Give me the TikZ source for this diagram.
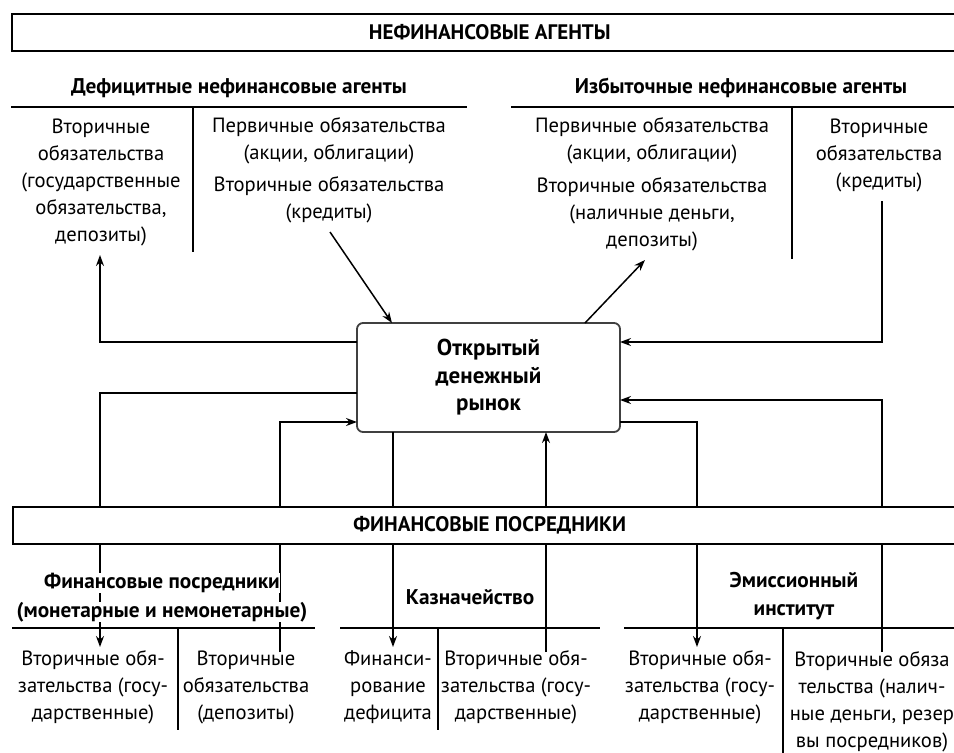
\documentclass[tikz,border=0pt]{standalone}
\usepackage{fontspec}
\setmainfont{PT Sans}
\usetikzlibrary{arrows.meta}
\begin{document}
\begin{tikzpicture}[x=1pt,y=-1pt,line width=1.5pt,
  txt/.style={align=center,font=\fontsize{20.6}{27}\selectfont,inner sep=0pt},
  hd/.style={align=center,font=\fontsize{21.3}{28}\selectfont\bfseries,inner sep=0pt},
  hdw/.style={hd,fill=white},
  banner/.style={draw,fill=white,line width=1.5pt,minimum height=37pt,inner sep=0pt,
    font=\fontsize{21}{24}\selectfont\bfseries},
  market/.style={draw=black!75,line width=1.8pt,fill=white,rounded corners=6pt,
    minimum width=263pt,minimum height=109pt,inner sep=0pt,align=center,
    font=\fontsize{23}{27.5}\selectfont\bfseries},
  arr/.style={-{Stealth[length=11pt,width=8pt]}},
  rule/.style={line width=1.5pt}]
\useasboundingbox (0,0) rectangle (954,753);
\clip (0,0) rectangle (954,753);

% ---------- top ----------
\node[banner,minimum width=960pt,anchor=north west] (nfa) at (11,13) {\hspace*{-4pt}НЕФИНАНСОВЫЕ АГЕНТЫ};
\node[hd] (def) at (239,88) {Дефицитные нефинансовые агенты};
\node[hd] (izb) at (741,88) {Избыточные нефинансовые агенты};
\coordinate (defL) at (11,107); \coordinate (defR) at (467,107);
\coordinate (izbL) at (511,107); \coordinate (izbR) at (970,107);
\draw[rule] (defL) -- (defR);
\draw[rule] (izbL) -- (izbR);
\coordinate (dv1a) at (193,107); \coordinate (dv1b) at (193,252);
\coordinate (dv2a) at (792,107); \coordinate (dv2b) at (792,259);
\draw[rule] (dv1a) -- (dv1b);
\draw[rule] (dv2a) -- (dv2b);

\node[txt] (l1) at (101,182) {Вторичные\\обязательства\\(государственные\\обязательства,\\депозиты)};
\node[txt] (l2a) at (329,141) {Первичные обязательства\\(акции, облигации)};
\node[txt] (l2b) at (329,200) {Вторичные обязательства\\(кредиты)};
\node[txt] (r1a) at (652,141) {Первичные обязательства\\(акции, облигации)};
\node[txt] (r1b) at (652,214) {Вторичные обязательства\\(наличные деньги,\\депозиты)};
\node[txt] (r2) at (879,155) {Вторичные\\обязательства\\(кредиты)};

% ---------- connector end points ----------
\coordinate (tL1) at (100,255);
\coordinate (sL2) at (330,232);
\coordinate (tR1) at (645,260);
\coordinate (sR2) at (882,201);
\coordinate (b1) at (100,647);
\coordinate (b2) at (280,652);
\coordinate (b3) at (393,647);
\coordinate (b4) at (546,652);
\coordinate (b5) at (697,647);
\coordinate (b6) at (882,652);

% ---------- market ----------
\node[market] (mk) at (488.5,377.5) {Открытый\\денежный\\рынок};
\coordinate (mL1) at (357,342);
\coordinate (mL2) at (357,393);
\coordinate (mL3) at (357,422);
\coordinate (mT1) at (392,323);
\coordinate (mT2) at (585,323);
\coordinate (mR1) at (620,342);
\coordinate (mR2) at (620,400);
\coordinate (mR3) at (620,422);
\coordinate (mB1) at (393,432);
\coordinate (mB2) at (546,432);

\draw[arr] (mL1) -| (tL1);
\draw[arr] (sL2) -- (mT1);
\draw[arr] (mT2) -- (tR1);
\draw[arr] (sR2) |- (mR1);
\draw[arr] (mL2) -| (b1);
\draw[arr] (b2) |- (mL3);
\draw[arr] (mB1) -- (b3);
\draw[arr] (b4) -- (mB2);
\draw[arr] (mR3) -| (b5);
\draw[arr] (b6) |- (mR2);

% ---------- bottom ----------
\node[banner,minimum width=960pt,anchor=north west] (fp) at (12,506) {\hspace*{-6pt}ФИНАНСОВЫЕ ПОСРЕДНИКИ};

\node[hdw] (fpa) at (162,583) {Финансовые посредники};
\node[hdw] (fpb) at (162,612) {(монетарные и немонетарные)};
\node[hd] (kaz) at (470,597) {Казначейство};
\node[hd] (emi) at (794,596) {Эмиссионный\\институт};

\coordinate (h1a) at (12,628); \coordinate (h1b) at (315,628);
\coordinate (h2a) at (340,628); \coordinate (h2b) at (600,628);
\coordinate (h3a) at (624,628); \coordinate (h3b) at (970,628);
\draw[rule] (h1a) -- (h1b);
\draw[rule] (h2a) -- (h2b);
\draw[rule] (h3a) -- (h3b);
\coordinate (d1a) at (178,628); \coordinate (d1b) at (178,730);
\coordinate (d2a) at (438,628); \coordinate (d2b) at (438,730);
\coordinate (d3a) at (783,628); \coordinate (d3b) at (783,760);
\draw[rule] (d1a) -- (d1b);
\draw[rule] (d2a) -- (d2b);
\draw[rule] (d3a) -- (d3b);

\node[txt] (q1) at (93,687) {Вторичные обя-\\зательства (госу-\\дарственные)};
\node[txt] (q2) at (246,687) {Вторичные\\обязательства\\(депозиты)};
\node[txt] (q3) at (388,687) {Финанси-\\рование\\дефицита};
\node[txt] (q4) at (516,687) {Вторичные обя-\\зательства (госу-\\дарственные)};
\node[txt] (q5) at (700,687) {Вторичные обя-\\зательства (госу-\\дарственные)};
\node[txt] (q6) at (872,702) {Вторичные обяза\\тельства (налич-\\ные деньги, резер\\вы посредников)};
\end{tikzpicture}
\end{document}
